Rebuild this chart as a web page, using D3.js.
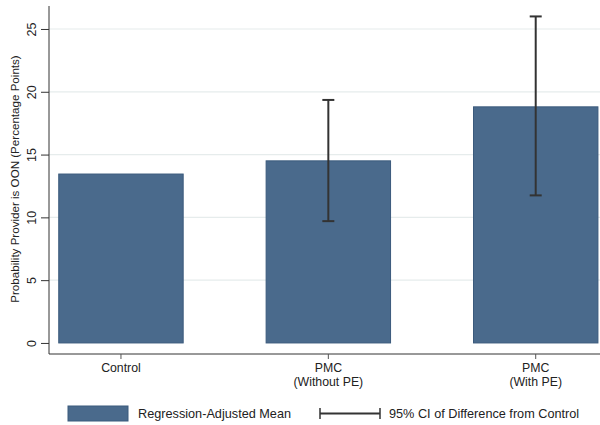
<!DOCTYPE html>
<html>
<head>
<meta charset="utf-8">
<script src="https://cdn.jsdelivr.net/npm/d3@7"></script>
<style>
  html, body { margin: 0; padding: 0; background: #fff; }
  svg { display: block; font-family: "Liberation Sans", Arial, sans-serif; }
</style>
</head>
<body>
<svg id="chart" width="600" height="425"></svg>
<script>
// Groups and their regression-adjusted means (percentage points)
const categories = ["Control", "PMC\n(Without PE)", "PMC\n(With PE)"];
const positions = [1, 2, 3];
const means = [13.45, 14.5, 18.8];
// 95% CI of difference from control (null for the control group)
const ciLow = [null, 9.7, 11.75];
const ciHigh = [null, 19.35, 26.0];
const yTicks = [0, 5, 10, 15, 20, 25];
const legendLabels = ["Regression-Adjusted Mean", "95% CI of Difference from Control"];

const svg = d3.select("#chart");
const barColor = "#4a6a8c";
const barStroke = "#3b5a7c";
const ciColor = "#333333";

const plotLeft = 49, plotRight = 600, plotTop = 6, plotBottom = 354;

const x = d3.scaleLinear().domain([0.653, 3.31]).range([plotLeft, plotRight]);
const y = d3.scaleLinear().domain([-0.88, 26.83]).range([plotBottom, plotTop]);
const barW = x(1.6) - x(1);

// horizontal grid lines
svg.append("g").selectAll("line").data(yTicks.filter(d => d > 0)).join("line")
  .attr("x1", plotLeft).attr("x2", plotRight)
  .attr("y1", d => y(d)).attr("y2", d => y(d))
  .attr("stroke", "#e6ecec").attr("stroke-width", 1.2);

// bars
svg.append("g").selectAll("rect").data(means).join("rect")
  .attr("x", (d, i) => x(positions[i]) - barW / 2)
  .attr("y", d => y(d))
  .attr("width", barW)
  .attr("height", d => y(0) - y(d))
  .attr("fill", barColor)
  .attr("stroke", barStroke).attr("stroke-width", 1);

// confidence intervals
const ci = positions.map((p, i) => ({p, lo: ciLow[i], hi: ciHigh[i]})).filter(d => d.lo !== null);
const gci = svg.append("g").attr("stroke", ciColor).attr("stroke-width", 2);
gci.selectAll("line.v").data(ci).join("line").attr("class", "v")
  .attr("x1", d => x(d.p)).attr("x2", d => x(d.p))
  .attr("y1", d => y(d.lo)).attr("y2", d => y(d.hi));
gci.selectAll("line.lo").data(ci).join("line").attr("class", "lo")
  .attr("x1", d => x(d.p) - 6).attr("x2", d => x(d.p) + 6)
  .attr("y1", d => y(d.lo)).attr("y2", d => y(d.lo));
gci.selectAll("line.hi").data(ci).join("line").attr("class", "hi")
  .attr("x1", d => x(d.p) - 6).attr("x2", d => x(d.p) + 6)
  .attr("y1", d => y(d.hi)).attr("y2", d => y(d.hi));

// y axis
const yAxis = svg.append("g").attr("transform", `translate(${plotLeft},0)`)
  .call(d3.axisLeft(y).tickValues(yTicks).tickSize(8).tickFormat(d3.format("d")));
yAxis.select(".domain").remove();
yAxis.selectAll(".tick line").attr("stroke", "#333");
yAxis.selectAll(".tick text")
  .attr("font-size", 12.5).attr("fill", "#222")
  .attr("x", 0).attr("y", 0).attr("dy", null)
  .attr("text-anchor", "middle")
  .attr("transform", "translate(-13,0) rotate(-90)");
svg.append("line").attr("x1", plotLeft).attr("x2", plotLeft).attr("y1", plotTop).attr("y2", plotBottom)
  .attr("stroke", "#333").attr("stroke-width", 1);

// x axis
svg.append("line").attr("x1", plotLeft).attr("x2", plotRight).attr("y1", plotBottom).attr("y2", plotBottom)
  .attr("stroke", "#333").attr("stroke-width", 1);
const xg = svg.append("g").attr("transform", `translate(0,${plotBottom})`);
xg.selectAll("line").data(positions).join("line")
  .attr("x1", d => x(d)).attr("x2", d => x(d)).attr("y1", 0).attr("y2", 5)
  .attr("stroke", "#555");
xg.selectAll("text").data(categories).join("text")
  .attr("text-anchor", "middle").attr("font-size", 12.3).attr("fill", "#222")
  .attr("transform", (d, i) => `translate(${x(positions[i])},18)`)
  .each(function(d) {
    d.split("\n").forEach((line, k) => {
      d3.select(this).append("tspan").attr("x", 0).attr("dy", k === 0 ? 0 : 13.5).text(line);
    });
  });

// y axis title
svg.append("text")
  .attr("transform", "translate(19,179) rotate(-90)")
  .attr("text-anchor", "middle").attr("font-size", 11.6).attr("fill", "#222")
  .text("Probability Provider is OON (Percentage Points)");

// legend
const lg = svg.append("g");
lg.append("rect").attr("x", 68).attr("y", 406).attr("width", 60).attr("height", 15)
  .attr("fill", barColor).attr("stroke", barStroke);
lg.append("text").attr("x", 138).attr("y", 418).attr("font-size", 12.7).attr("fill", "#222")
  .text(legendLabels[0]);
lg.append("g").attr("stroke", ciColor).attr("stroke-width", 2).call(g => {
  g.append("line").attr("x1", 320).attr("x2", 380).attr("y1", 413.5).attr("y2", 413.5);
  g.append("line").attr("x1", 320).attr("x2", 320).attr("y1", 408).attr("y2", 419).attr("stroke-width", 1.5);
  g.append("line").attr("x1", 380).attr("x2", 380).attr("y1", 408).attr("y2", 419).attr("stroke-width", 1.5);
});
lg.append("text").attr("x", 389).attr("y", 418).attr("font-size", 12.7).attr("fill", "#222")
  .text(legendLabels[1]);
</script>
</body>
</html>
